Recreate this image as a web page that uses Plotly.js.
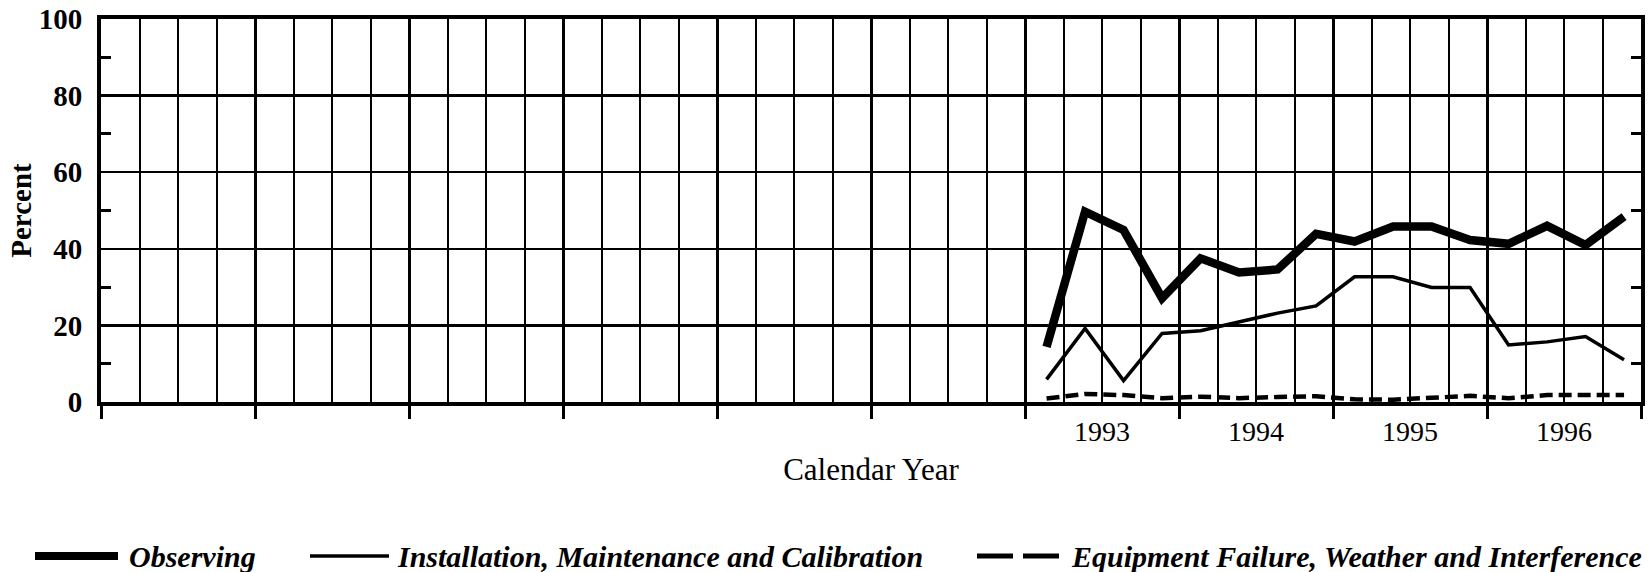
<!DOCTYPE html>
<html>
<head>
<meta charset="utf-8">
<script src="https://cdn.plot.ly/plotly-3.0.1.min.js"></script>
<style>
  html, body { margin: 0; padding: 0; background: #fff; }
  #chart { width: 1650px; height: 572px; }
</style>
</head>
<body>
<div id="chart"></div>
<script>
// Quarterly observation dates (decimal calendar year)
const quarters = [1993.14, 1993.39, 1993.64, 1993.89,
                  1994.14, 1994.39, 1994.64, 1994.89,
                  1995.14, 1995.39, 1995.64, 1995.89,
                  1996.14, 1996.39, 1996.64, 1996.89];

// Percent by category
const observing    = [14.4, 49.7, 44.9, 27.1, 37.5, 33.8, 34.6, 43.9,
                      41.9, 45.8, 45.8, 42.3, 41.3, 46.0, 41.0, 48.4];
const installation = [5.9, 19.2, 5.6, 17.9, 18.6, 21.0, 23.2, 25.1,
                      32.7, 32.7, 29.9, 29.9, 14.9, 15.7, 17.1, 11.0];
const equipment    = [0.9, 2.1, 1.8, 1.0, 1.4, 1.0, 1.3, 1.5,
                      0.7, 0.6, 1.1, 1.6, 1.0, 1.8, 1.8, 1.8];

const seriesNames = ['Observing',
                     'Installation, Maintenance and Calibration',
                     'Equipment Failure, Weather and Interference'];

const yearTickVals = [1993.5, 1994.5, 1995.5, 1996.5];
const yearTickText = ['1993', '1994', '1995', '1996'];

const SERIF = '"Liberation Serif", "Times New Roman", serif';

const traces = [
  { x: quarters, y: observing, name: seriesNames[0], type: 'scatter', mode: 'lines',
    line: { color: '#000', width: 8.5 }, showlegend: false },
  { x: quarters, y: installation, name: seriesNames[1], type: 'scatter', mode: 'lines',
    line: { color: '#000', width: 3.5 }, showlegend: false },
  { x: quarters, y: equipment, name: seriesNames[2], type: 'scatter', mode: 'lines',
    line: { color: '#000', width: 4.5, dash: '13px,6px' }, showlegend: false },
  // carrier for the year-label axis (draws nothing)
  { x: yearTickVals, y: [null, null, null, null], xaxis: 'x2', yaxis: 'y',
    type: 'scatter', mode: 'lines', showlegend: false, hoverinfo: 'skip' }
];

// plot area in pixels
const M = { l: 101, r: 9, t: 19, b: 170 };
const W = 1650, H = 572;
const PW = W - M.l - M.r, PH = H - M.t - M.b;
const px = v => (v - M.l) / PW;
const py = v => (H - M.b - v) / PH;

// custom legend (symbol lines + labels)
const legY = 556;
const legendItems = [
  { x0: 35, x1: 118, tx: 127, width: 8, dash: 'solid', text: seriesNames[0] },
  { x0: 310, x1: 389, tx: 395, width: 3.5, dash: 'solid', text: seriesNames[1] },
  { x0: 977, x1: 1063, tx: 1069, width: 5, dash: '36px,10px', text: seriesNames[2] }
];
const shapes = legendItems.map(it => ({
  type: 'line', xref: 'paper', yref: 'paper',
  x0: px(it.x0), x1: px(it.x1), y0: py(legY), y1: py(legY),
  line: { color: '#000', width: it.width, dash: it.dash }
}));
const annotations = legendItems.map(it => ({
  xref: 'paper', yref: 'paper', x: px(it.tx), y: py(legY),
  xanchor: 'left', yanchor: 'middle', showarrow: false,
  text: '<b><i>' + it.text + '</i></b>',
  font: { family: SERIF, size: 30, color: '#000' }
}));

const layout = {
  width: W, height: H,
  margin: M,
  paper_bgcolor: '#fff', plot_bgcolor: '#fff',
  showlegend: false,
  xaxis: {
    range: [1987, 1997], tickmode: 'linear', tick0: 1987, dtick: 1,
    showticklabels: false,
    ticks: 'outside', ticklen: 13, tickwidth: 3, tickcolor: '#000',
    showgrid: true, gridcolor: '#000', gridwidth: 3,
    minor: { tick0: 1987, dtick: 0.25, showgrid: true, gridcolor: '#000', gridwidth: 2, ticks: '' },
    showline: true, linecolor: '#000', linewidth: 4, mirror: true,
    zeroline: false, fixedrange: true
  },
  xaxis2: {
    overlaying: 'x', anchor: 'y', side: 'bottom',
    range: [1987, 1997], tickmode: 'array',
    tickvals: yearTickVals, ticktext: yearTickText,
    ticks: '', showgrid: false, showline: false, zeroline: false,
    ticklabelstandoff: 10,
    tickfont: { family: SERIF, size: 28, color: '#000' },
    title: { text: 'Calendar Year', standoff: 12,
             font: { family: SERIF, size: 31, color: '#000' } },
    fixedrange: true
  },
  yaxis: {
    range: [0, 100], tickmode: 'linear', tick0: 0, dtick: 20,
    ticks: '', showgrid: true, gridcolor: '#000', gridwidth: 2.5,
    minor: { tick0: 0, dtick: 10, ticks: 'inside', ticklen: 10, tickwidth: 3, tickcolor: '#000', showgrid: false },
    showline: true, linecolor: '#000', linewidth: 4, mirror: 'ticks',
    zeroline: false, ticklabelstandoff: 9,
    tickfont: { family: SERIF, size: 29, color: '#000', weight: 'bold' },
    title: { text: '<b>Percent</b>', standoff: 0,
             font: { family: SERIF, size: 29, color: '#000' } },
    fixedrange: true
  },
  shapes: shapes,
  annotations: annotations
};

Plotly.newPlot('chart', traces, layout, { displayModeBar: false, staticPlot: true });
</script>
</body>
</html>
